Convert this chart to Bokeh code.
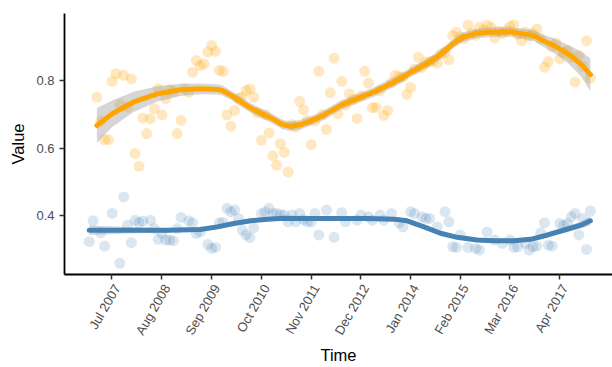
import numpy as np
import pandas as pd
from bokeh.plotting import figure
from bokeh.models import FixedTicker, Range1d, LinearAxis, CustomLabelingPolicy
from bokeh.embed import file_html
from bokeh.resources import INLINE

BASE = pd.Timestamp("2007-01-01")
DAYS_PER_MONTH = 30.4375

# ---- monthly data (month index since Jan 2007, value) ----
orange_month = [2, 4, 5, 6, 7, 8, 9, 11, 12, 13, 14, 15, 16, 17, 18, 19, 20, 21, 23, 24, 25, 26,
                27, 28, 29, 30, 31, 32, 33, 34, 35, 36, 37, 38, 40, 41, 42, 43, 45, 47, 48, 49,
                50, 51, 52, 55, 56, 58, 60, 62, 63, 64, 65, 66, 68, 70, 72, 73, 74, 75, 77, 78,
                80, 81, 83, 84, 86, 89, 91, 94, 95, 96, 99, 102, 104, 105, 106, 110, 111, 113,
                117, 119, 120, 123, 127, 128, 130, 131,
                3, 10, 22, 39, 44, 46, 53, 54, 57, 59, 61, 67, 69, 71, 76, 79, 82, 85, 87, 88,
                90, 92, 93, 97, 98, 100, 101, 103, 107, 108, 109, 112, 114, 115, 116, 118, 121,
                122, 124, 125, 126, 129]
orange_value = [0.751, 0.625, 0.625, 0.798, 0.821, 0.730, 0.816, 0.806, 0.584, 0.546, 0.689,
                0.643, 0.687, 0.717, 0.776, 0.699, 0.747, 0.773, 0.643, 0.682, 0.776, 0.766,
                0.825, 0.860, 0.845, 0.850, 0.885, 0.905, 0.887, 0.831, 0.828, 0.699, 0.665,
                0.712, 0.751, 0.771, 0.776, 0.751, 0.623, 0.645, 0.577, 0.549, 0.613, 0.587,
                0.529, 0.739, 0.714, 0.610, 0.828, 0.655, 0.764, 0.867, 0.702, 0.798, 0.761,
                0.688, 0.828, 0.793, 0.720, 0.721, 0.697, 0.712, 0.816, 0.812, 0.759, 0.780,
                0.870, 0.855, 0.852, 0.862, 0.934, 0.944, 0.965, 0.959, 0.965, 0.959, 0.927,
                0.961, 0.966, 0.919, 0.954, 0.840, 0.857, 0.865, 0.796, 0.875, 0.919, 0.808,
                0.680, 0.722, 0.768, 0.748, 0.705, 0.700, 0.670, 0.662, 0.683, 0.680, 0.700,
                0.728, 0.745, 0.755, 0.770, 0.795, 0.812, 0.835, 0.840, 0.856, 0.860, 0.880,
                0.885, 0.930, 0.925, 0.942, 0.935, 0.950, 0.948, 0.940, 0.950, 0.938, 0.945,
                0.932, 0.940, 0.925, 0.900, 0.912, 0.885, 0.890, 0.870, 0.843]

blue_month = [0, 1, 3, 4, 6, 8, 9, 10, 11, 12, 13, 14, 16, 17, 18, 19, 20, 21, 22, 23, 24, 26,
              27, 28, 29, 31, 32, 33, 34, 35, 36, 37, 38, 39, 40, 41, 42, 43, 45, 46, 47, 48,
              49, 50, 51, 52, 53, 54, 55, 56, 57, 58, 59, 60, 62, 64, 66, 67, 70, 71, 73, 74,
              76, 77, 79, 81, 82, 84, 85, 87, 88, 89, 91, 93, 94, 95, 96, 97, 99, 101, 102,
              104, 106, 108, 110, 111, 112, 114, 115, 116, 117, 118, 119, 120, 121, 123, 124,
              125, 126, 127, 128, 129, 130, 131]
blue_value = [0.322, 0.384, 0.348, 0.309, 0.406, 0.258, 0.455, 0.371, 0.319, 0.386, 0.379, 0.383,
              0.386, 0.361, 0.329, 0.347, 0.327, 0.327, 0.325, 0.361, 0.394, 0.384, 0.378, 0.347,
              0.351, 0.314, 0.302, 0.305, 0.378, 0.379, 0.421, 0.411, 0.416, 0.391, 0.356, 0.342,
              0.334, 0.363, 0.406, 0.410, 0.421, 0.406, 0.406, 0.403, 0.401, 0.381, 0.401, 0.381,
              0.406, 0.388, 0.381, 0.381, 0.406, 0.342, 0.416, 0.335, 0.408, 0.381, 0.386, 0.401,
              0.396, 0.386, 0.401, 0.386, 0.406, 0.378, 0.366, 0.411, 0.406, 0.396, 0.391, 0.391,
              0.366, 0.411, 0.381, 0.307, 0.305, 0.342, 0.305, 0.302, 0.297, 0.351, 0.327, 0.317,
              0.327, 0.305, 0.307, 0.317, 0.297, 0.307, 0.309, 0.348, 0.378, 0.312, 0.309, 0.376,
              0.371, 0.376, 0.396, 0.406, 0.342, 0.391, 0.299, 0.413]

# smoothed trend and half-width of its confidence band
orange_fit_month = [2.0, 6.0, 11.6, 17.8, 23.8, 29.0, 33.5, 34.8, 36.9, 39.0, 40.6, 42.7, 44.8,
                    47.9, 50.5, 52.6, 55.3, 57.8, 61.2, 65.7, 70.1, 74.3, 78.8, 81.4, 84.0, 88.4,
                    91.8, 94.9, 97.6, 101.0, 105.7, 110.2, 113.0, 116.2, 118.8, 121.4, 125.1,
                    128.5, 131.0]
orange_fit_value = [0.667, 0.702, 0.737, 0.761, 0.773, 0.776, 0.774, 0.771, 0.758, 0.742, 0.730,
                    0.716, 0.704, 0.687, 0.670, 0.665, 0.670, 0.680, 0.697, 0.727, 0.747, 0.766,
                    0.791, 0.806, 0.825, 0.852, 0.878, 0.908, 0.929, 0.940, 0.945, 0.945, 0.940,
                    0.934, 0.918, 0.905, 0.880, 0.850, 0.818]
orange_fit_se = [0.052, 0.039, 0.030, 0.023, 0.018, 0.016, 0.015, 0.015, 0.014, 0.014, 0.014,
                 0.014, 0.014, 0.014, 0.014, 0.014, 0.014, 0.014, 0.014, 0.014, 0.014, 0.014,
                 0.014, 0.014, 0.014, 0.014, 0.014, 0.014, 0.014, 0.014, 0.014, 0.014, 0.015,
                 0.016, 0.018, 0.021, 0.027, 0.037, 0.049]

blue_fit_month = [0.0, 11.6, 20.4, 29.0, 33.5, 37.8, 42.2, 46.6, 50.8, 55.3, 63.9, 72.7, 79.6,
                  83.1, 87.5, 91.8, 96.2, 101.4, 105.7, 110.9, 115.4, 119.8, 124.0, 128.5, 131.0]
blue_fit_value = [0.356, 0.356, 0.356, 0.358, 0.366, 0.376, 0.384, 0.389, 0.392, 0.391, 0.391,
                  0.391, 0.389, 0.384, 0.366, 0.347, 0.335, 0.327, 0.325, 0.325, 0.329, 0.342,
                  0.356, 0.371, 0.384]
blue_fit_se = [0.014, 0.009, 0.007, 0.006, 0.006, 0.006, 0.006, 0.006, 0.006, 0.006, 0.006, 0.006,
               0.006, 0.006, 0.006, 0.006, 0.006, 0.006, 0.006, 0.006, 0.006, 0.007, 0.008, 0.010,
               0.014]

tick_labels = ["Jul 2007", "Aug 2008", "Sep 2009", "Oct 2010", "Nov 2011", "Dec 2012",
               "Jan 2014", "Feb 2015", "Mar 2016", "Apr 2017"]
y_ticks = [0.4, 0.6, 0.8]


def to_dt(months):
    return (BASE + pd.to_timedelta(np.asarray(months, dtype=float) * DAYS_PER_MONTH, unit="D")).values


tick_dates = [pd.to_datetime(t, format="%b %Y") for t in tick_labels]
tick_ms = [d.timestamp() * 1000 for d in tick_dates]
tick_month_idx = [(d.year - BASE.year) * 12 + (d.month - 1) for d in tick_dates]

X0_M, X1_M = -6.47, 136.78          # visible span in months
LABEL_SHIFT_M = 1.3                 # tick labels sit a little right of their tick (hjust=1 look)

x_start = (BASE + pd.Timedelta(days=X0_M * DAYS_PER_MONTH)).to_pydatetime()
x_end = (BASE + pd.Timedelta(days=X1_M * DAYS_PER_MONTH)).to_pydatetime()

p = figure(width=612, height=367, x_axis_type="datetime", output_backend="svg",
           toolbar_location=None, x_range=Range1d(x_start, x_end),
           y_range=Range1d(0.2246, 0.9997),
           min_border_left=64, min_border_right=0, min_border_top=13, min_border_bottom=92,
           y_axis_label="Value")

p.outline_line_color = None
p.grid.visible = False
p.background_fill_color = "white"
p.border_fill_color = "white"

# points
p.scatter(to_dt(orange_month), orange_value, size=11, fill_color="#FFA500", fill_alpha=0.25,
          line_color=None)
p.scatter(to_dt(blue_month), blue_value, size=11, fill_color="#4682B4", fill_alpha=0.2,
          line_color=None)

# confidence bands
for fm, fv, fs in [(orange_fit_month, orange_fit_value, orange_fit_se),
                   (blue_fit_month, blue_fit_value, blue_fit_se)]:
    fv_a = np.asarray(fv)
    fs_a = np.asarray(fs)
    p.varea(x=to_dt(fm), y1=fv_a - fs_a, y2=fv_a + fs_a, fill_color="#999999", fill_alpha=0.4)

# smooth lines
p.line(to_dt(orange_fit_month), orange_fit_value, line_color="#FFA500", line_width=5,
       line_join="round", line_cap="round")
p.line(to_dt(blue_fit_month), blue_fit_value, line_color="#4682B4", line_width=5,
       line_join="round", line_cap="round")

# main x axis: line and ticks only (its own labels are filtered out, never drawn)
xa = p.xaxis[0]
xa.ticker = FixedTicker(ticks=tick_ms)
xa.major_label_policy = CustomLabelingPolicy(code="return []")
xa.major_label_text_font_size = "0px"
xa.major_label_standoff = 0

# label axis: rotated month labels
p.extra_x_ranges = {"lab": Range1d(X0_M - LABEL_SHIFT_M, X1_M - LABEL_SHIFT_M)}
la = LinearAxis(x_range_name="lab", axis_label="Time")
la.ticker = FixedTicker(ticks=tick_month_idx)
overrides = {}
for k, t in zip(tick_month_idx, tick_labels):
    overrides[k] = t
    overrides[str(k)] = t
la.major_label_overrides = overrides
la.major_label_orientation = np.pi / 3
la.axis_line_color = None
la.major_tick_line_color = None
la.minor_tick_line_color = None
la.major_tick_out = 0
la.major_tick_in = 0
la.minor_tick_out = 0
la.minor_tick_in = 0
la.major_label_standoff = 6
la.axis_label_standoff = 2
p.add_layout(la, "below")

ya = p.yaxis[0]
ya.ticker = FixedTicker(ticks=y_ticks)

for ax in (xa, ya):
    ax.axis_line_color = "black"
    ax.axis_line_width = 1.8
    ax.major_tick_line_color = "#333333"
    ax.major_tick_line_width = 1.5
    ax.major_tick_out = 5
    ax.major_tick_in = 0
    ax.minor_tick_line_color = None

for ax in (la, ya):
    ax.major_label_text_font = "Liberation Sans"
    ax.major_label_text_font_size = "13px"
    ax.major_label_text_color = "#4D4D4D"
    ax.axis_label_text_font = "Liberation Sans"
    ax.axis_label_text_font_size = "16.5px"
    ax.axis_label_text_font_style = "normal"
    ax.axis_label_text_color = "black"

ya.major_label_standoff = 5
ya.axis_label_standoff = 6

open("out.html", "w").write(file_html(p, INLINE))
